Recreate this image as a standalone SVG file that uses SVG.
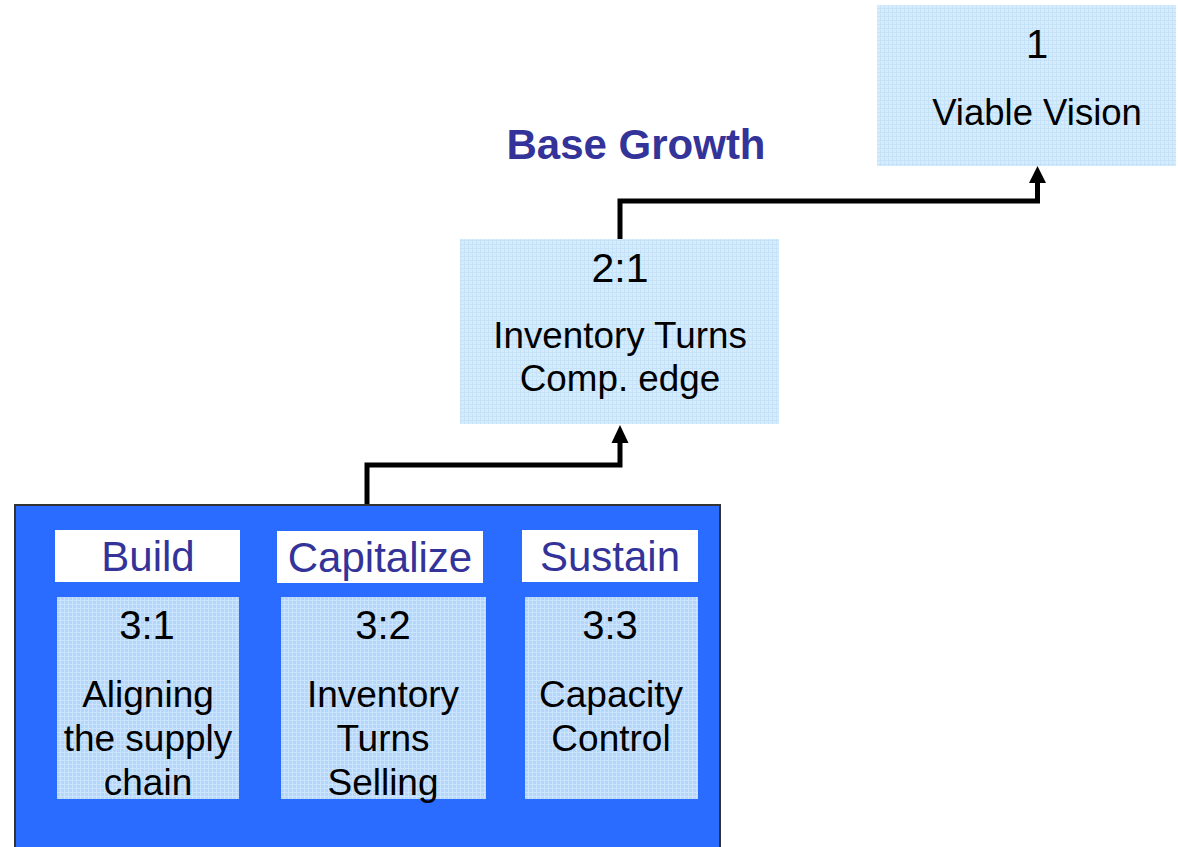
<svg xmlns="http://www.w3.org/2000/svg" width="1178" height="847" viewBox="0 0 1178 847">
  <defs>
    <!-- fine mesh texture used for the pale node fills -->
    <pattern id="meshTop" width="4" height="4" patternUnits="userSpaceOnUse">
      <rect width="4" height="4" fill="#d5ecfc"/>
      <path d="M0 0.5H4M0.5 0V4" stroke="#c6e2f8" stroke-width="1"/>
    </pattern>
    <pattern id="meshLow" width="4" height="4" patternUnits="userSpaceOnUse">
      <rect width="4" height="4" fill="#b4d6fb"/>
      <path d="M0 0.5H4M0.5 0V4" stroke="#cbe4fd" stroke-width="1"/>
    </pattern>
  </defs>
  <style>
    .txt { font-family: "Liberation Sans", Arial, sans-serif; fill: #000; text-anchor: middle; }
    .hdr { font-family: "Liberation Sans", Arial, sans-serif; fill: #333399; text-anchor: middle; }
    .edge { fill: none; stroke: #000; stroke-width: 5; stroke-linejoin: miter; }
    .head { fill: #000; }
  </style>

  <rect width="1178" height="847" fill="#fff"/>

  <!-- connectors -->
  <g id="connectors">
    <path class="edge" d="M367 505V465H620V443"/>
    <path class="head" d="M611.5 443L620 425L628.5 443Z"/>
    <path class="edge" d="M620 239V201H1037.5V183"/>
    <path class="head" d="M1029 183L1037.5 166L1046 183Z"/>
  </g>

  <!-- top goal -->
  <g id="node-1">
    <rect x="877" y="5" width="299" height="161" fill="url(#meshTop)"/>
    <text class="txt" x="1037" y="58" font-size="40">1</text>
    <text class="txt" x="1037" y="125" font-size="36.5">Viable Vision</text>
  </g>

  <g id="label-base-growth">
    <text class="hdr" x="636" y="159" font-size="42" font-weight="bold">Base Growth</text>
  </g>

  <!-- intermediate goal -->
  <g id="node-2-1">
    <rect x="460" y="239" width="319" height="185" fill="url(#meshTop)"/>
    <text class="txt" x="620" y="282" font-size="41">2:1</text>
    <text class="txt" x="620" y="348" font-size="36.8">Inventory Turns</text>
    <text class="txt" x="620" y="391" font-size="36.8">Comp. edge</text>
  </g>

  <!-- level 3 container -->
  <g id="node-3">
    <rect x="15" y="505" width="705" height="350" fill="#2a6cff" stroke="#333" stroke-width="2"/>

    <g id="node-3-1">
      <rect x="55" y="530" width="185" height="52" fill="#fff"/>
      <text class="hdr" x="148" y="571" font-size="42">Build</text>
      <rect x="57" y="597" width="182" height="202" fill="url(#meshLow)"/>
      <text class="txt" x="147" y="639" font-size="40">3:1</text>
      <text class="txt" x="148" y="707" font-size="37">Aligning</text>
      <text class="txt" x="148" y="751" font-size="37">the supply</text>
      <text class="txt" x="148" y="795" font-size="37">chain</text>
    </g>

    <g id="node-3-2">
      <rect x="277" y="531" width="206" height="52" fill="#fff"/>
      <text class="hdr" x="380" y="572" font-size="42">Capitalize</text>
      <rect x="281" y="597" width="205" height="202" fill="url(#meshLow)"/>
      <text class="txt" x="383" y="639" font-size="40">3:2</text>
      <text class="txt" x="383" y="707" font-size="37">Inventory</text>
      <text class="txt" x="383" y="751" font-size="37">Turns</text>
      <text class="txt" x="383" y="795" font-size="37">Selling</text>
    </g>

    <g id="node-3-3">
      <rect x="522" y="530" width="176" height="52" fill="#fff"/>
      <text class="hdr" x="610" y="571" font-size="42">Sustain</text>
      <rect x="525" y="597" width="173" height="202" fill="url(#meshLow)"/>
      <text class="txt" x="610" y="639" font-size="40">3:3</text>
      <text class="txt" x="611" y="707" font-size="37">Capacity</text>
      <text class="txt" x="611" y="751" font-size="37">Control</text>
    </g>
  </g>
</svg>
